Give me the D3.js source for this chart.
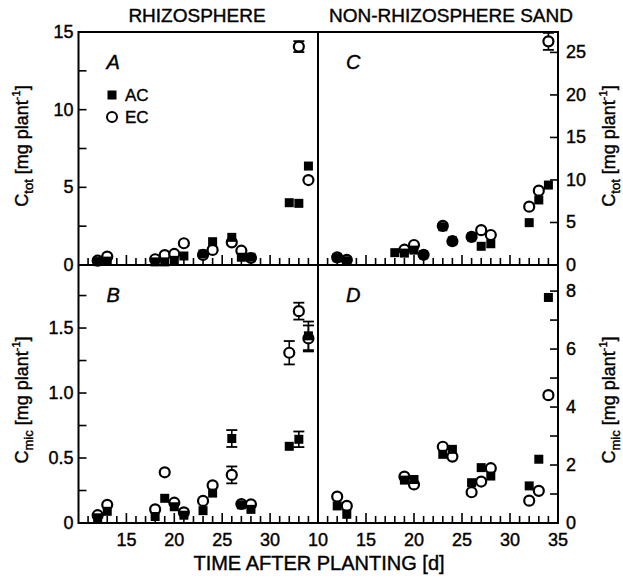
<!DOCTYPE html>
<html>
<head>
<meta charset="utf-8">
<script src="https://cdn.jsdelivr.net/npm/d3@7"></script>
<style>
  body { margin: 0; background: #fff; }
  svg { font-family: "Liberation Sans", Arial, sans-serif; }
  svg text { fill: #000; stroke: #000; stroke-width: 0.4px; }
  .tick-label { font-size: 18px; }
</style>
</head>
<body>
<div id="chart"></div>
<script>
// sampling days (d after planting)
const days = [12, 13, 18, 19, 20, 21, 23, 24, 26, 27, 28, 32, 33, 34];

// A: rhizosphere, C_tot
const rhizoTotAC = [0.22, 0.25, 0.2, 0.2, 0.3, 0.58, 0.71, 1.5, 1.78, 0.5, 0.5, 4.01, 3.97, 6.37];
const rhizoTotEC = [0.28, 0.54, 0.37, 0.64, 0.71, 1.4, 0.65, 0.97, 1.46, 0.92, 0.45, null, 14.06, 5.47];
const rhizoTotErrAC = [null, null, null, null, null, null, null, null, null, null, null, null, null, null];
const rhizoTotErrEC = [null, null, null, null, null, null, null, null, null, null, null, null, 0.35, null];

// B: rhizosphere, C_mic
const rhizoMicAC = [0.04, 0.09, 0.05, 0.19, 0.125, 0.06, 0.095, 0.23, 0.65, 0.14, 0.105, 0.59, 0.644, 1.44];
const rhizoMicEC = [0.06, 0.14, 0.105, 0.39, 0.156, 0.082, 0.17, 0.29, 0.37, 0.146, 0.144, 1.31, 1.63, 1.42];
const rhizoMicErrAC = [null, null, null, null, null, null, null, null, 0.065, null, null, null, 0.06, 0.11];
const rhizoMicErrEC = [null, null, null, null, null, null, null, null, 0.065, null, null, 0.09, 0.065, 0.1];

// C: non-rhizosphere sand, C_tot
const sandTotAC = [0.85, 0.5, 1.45, 1.4, 1.75, 1.2, 4.5, 2.85, 3.3, 2.2, 2.5, 4.98, 7.65, 9.4];
const sandTotEC = [0.9, 0.6, null, 1.8, 2.35, 1.2, 4.6, 2.8, 3.3, 4.1, 3.53, 6.86, 8.74, 26.3];
const sandTotErrAC = [null, null, null, null, null, null, null, null, null, null, null, null, null, null];
const sandTotErrEC = [null, null, null, null, null, null, null, null, null, null, null, null, null, 1.0];

// D: non-rhizosphere sand, C_mic
const sandMicAC = [0.59, 0.3, null, 1.48, 1.5, null, 2.37, 2.54, 1.39, 1.91, 1.62, 1.28, 2.2, 7.78];
const sandMicEC = [0.91, 0.59, null, 1.6, 1.33, null, 2.63, 2.29, 1.06, 1.43, 1.89, 0.77, 1.11, 4.41];
const sandMicErrAC = [null, null, null, null, null, null, null, null, null, null, null, null, null, null];
const sandMicErrEC = [null, null, null, null, null, null, null, null, null, null, null, null, null, null];

const leftXTicks = [15, 20, 25, 30];
const rightXTicks = [10, 15, 20, 25, 30, 35];

const svgWidth = 623;
const svgHeight = 581;

const plotLeft = 78.5, plotMid = 318, plotRight = 558;
const plotTop = 32, plotHMid = 265, plotBottom = 523;

const svg = d3.select("#chart")
  .append("svg")
  .attr("width", svgWidth)
  .attr("height", svgHeight);

const panels = [
  { letter: "A", x0: plotLeft, x1: plotMid, y0: plotTop, y1: plotHMid, ymax: 15, side: "left",
    ticks: [0, 5, 10, 15], minor: 2.5, fmt: d3.format("d"),
    ac: rhizoTotAC, ec: rhizoTotEC, errAC: rhizoTotErrAC, errEC: rhizoTotErrEC, xTicks: null },
  { letter: "B", x0: plotLeft, x1: plotMid, y0: plotHMid, y1: plotBottom, ymax: 1.985, side: "left",
    ticks: [0, 0.5, 1.0, 1.5], minor: 0.25, fmt: d => d === 0 ? "0" : d3.format(".1f")(d),
    ac: rhizoMicAC, ec: rhizoMicEC, errAC: rhizoMicErrAC, errEC: rhizoMicErrEC, xTicks: leftXTicks },
  { letter: "C", x0: plotMid, x1: plotRight, y0: plotTop, y1: plotHMid, ymax: 27.4, side: "right",
    ticks: [0, 5, 10, 15, 20, 25], minor: 5, fmt: d3.format("d"),
    ac: sandTotAC, ec: sandTotEC, errAC: sandTotErrAC, errEC: sandTotErrEC, xTicks: null },
  { letter: "D", x0: plotMid, x1: plotRight, y0: plotHMid, y1: plotBottom, ymax: 8.9, side: "right",
    ticks: [0, 2, 4, 6, 8], minor: 1, fmt: d3.format("d"),
    ac: sandMicAC, ec: sandMicEC, errAC: sandMicErrAC, errEC: sandMicErrEC, xTicks: rightXTicks }
];

panels.forEach(p => {
  const x = d3.scaleLinear().domain([10, 35]).range([p.x0, p.x1]);
  const y = d3.scaleLinear().domain([0, p.ymax]).range([p.y1, p.y0]);
  const g = svg.append("g");

  // x ticks on the bottom edge, pointing up
  d3.range(11, 35).forEach(d => {
    const len = d % 5 === 0 ? 10 : 7;
    g.append("line")
      .attr("x1", x(d)).attr("x2", x(d))
      .attr("y1", p.y1).attr("y2", p.y1 - len)
      .attr("stroke", "#000").attr("stroke-width", 1.6);
  });

  if (p.xTicks) {
    g.selectAll("text.xt")
      .data(p.xTicks)
      .enter()
      .append("text")
      .attr("class", "tick-label")
      .attr("x", d => x(d))
      .attr("y", p.y1 + 23)
      .attr("text-anchor", "middle")
      .text(d => d);
  }

  // y ticks, pointing inward
  const axisX = p.side === "left" ? p.x0 : p.x1;
  const dir = p.side === "left" ? 1 : -1;
  const minorTicks = d3.range(0, p.ymax + 1e-9, p.minor).map(v => +v.toFixed(3));
  minorTicks.forEach(v => {
    g.append("line")
      .attr("x1", axisX).attr("x2", axisX + dir * 8)
      .attr("y1", y(v)).attr("y2", y(v))
      .attr("stroke", "#000").attr("stroke-width", 1.6);
  });

  g.selectAll("text.yt")
    .data(p.ticks)
    .enter()
    .append("text")
    .attr("class", "tick-label")
    .attr("x", p.side === "left" ? axisX - 5 : axisX + 8)
    .attr("y", d => y(d) + 6)
    .attr("text-anchor", p.side === "left" ? "end" : "start")
    .text(p.fmt);

  // error bars
  const drawErr = (vals, errs) => {
    days.forEach((d, i) => {
      if (vals[i] == null || errs[i] == null) return;
      const cx = x(d);
      const lo = y(vals[i] - errs[i]), hi = y(vals[i] + errs[i]);
      g.append("line").attr("x1", cx).attr("x2", cx).attr("y1", lo).attr("y2", hi)
        .attr("stroke", "#000").attr("stroke-width", 1.6);
      [lo, hi].forEach(yy => {
        g.append("line").attr("x1", cx - 5.5).attr("x2", cx + 5.5).attr("y1", yy).attr("y2", yy)
          .attr("stroke", "#000").attr("stroke-width", 1.8);
      });
    });
  };
  drawErr(p.ec, p.errEC);
  drawErr(p.ac, p.errAC);

  const pts = days.map((d, i) => ({ d, ac: p.ac[i], ec: p.ec[i] }));

  // EC: open circles
  g.selectAll("circle.ec")
    .data(pts.filter(o => o.ec != null))
    .enter()
    .append("circle")
    .attr("cx", o => x(o.d))
    .attr("cy", o => y(o.ec))
    .attr("r", 5)
    .attr("fill", "#fff")
    .attr("stroke", "#000")
    .attr("stroke-width", 2.2);

  // AC: filled squares
  g.selectAll("rect.ac")
    .data(pts.filter(o => o.ac != null))
    .enter()
    .append("rect")
    .attr("x", o => x(o.d) - 4.5)
    .attr("y", o => y(o.ac) - 4.5)
    .attr("width", 9)
    .attr("height", 9)
    .attr("fill", "#000");

  // panel letter
  g.append("text")
    .attr("x", p.x0 + 28)
    .attr("y", p.y0 + 37)
    .attr("font-size", 20)
    .attr("font-style", "italic")
    .text(p.letter);
});

// frame
svg.append("rect")
  .attr("x", plotLeft).attr("y", plotTop)
  .attr("width", plotRight - plotLeft).attr("height", plotBottom - plotTop)
  .attr("fill", "none").attr("stroke", "#000").attr("stroke-width", 2);
svg.append("line")
  .attr("x1", plotMid).attr("x2", plotMid).attr("y1", plotTop).attr("y2", plotBottom)
  .attr("stroke", "#000").attr("stroke-width", 2);
svg.append("line")
  .attr("x1", plotLeft).attr("x2", plotRight).attr("y1", plotHMid).attr("y2", plotHMid)
  .attr("stroke", "#000").attr("stroke-width", 2);

// legend in A
svg.append("rect").attr("x", 107.5).attr("y", 90.5).attr("width", 9).attr("height", 9).attr("fill", "#000");
svg.append("text").attr("x", 125).attr("y", 101).attr("font-size", 17).text("AC");
svg.append("circle").attr("cx", 112).attr("cy", 117).attr("r", 5)
  .attr("fill", "#fff").attr("stroke", "#000").attr("stroke-width", 2);
svg.append("text").attr("x", 125).attr("y", 123).attr("font-size", 17).text("EC");

// column titles
svg.append("text").attr("x", 197).attr("y", 22).attr("text-anchor", "middle")
  .attr("font-size", 19).text("RHIZOSPHERE");
svg.append("text").attr("x", 451).attr("y", 22).attr("text-anchor", "middle")
  .attr("font-size", 19).text("NON-RHIZOSPHERE SAND");

// x title
svg.append("text").attr("x", 319).attr("y", 570).attr("text-anchor", "middle")
  .attr("font-size", 20).text("TIME AFTER PLANTING [d]");

// y titles with sub/superscripts
function yTitle(xpos, ypos, sub) {
  const t = svg.append("text")
    .attr("transform", `translate(${xpos},${ypos}) rotate(-90)`)
    .attr("text-anchor", "middle")
    .attr("font-size", 18);
  t.append("tspan").text("C");
  t.append("tspan").attr("font-size", 13).attr("dy", 5).text(sub);
  t.append("tspan").attr("dy", -5).text(" [mg plant");
  t.append("tspan").attr("font-size", 11).attr("dy", -8).text("-1");
  t.append("tspan").attr("dy", 8).text("]");
}
yTitle(28, 146, "tot");
yTitle(28, 400, "mic");
yTitle(615, 146, "tot");
yTitle(615, 400, "mic");
</script>
</body>
</html>
